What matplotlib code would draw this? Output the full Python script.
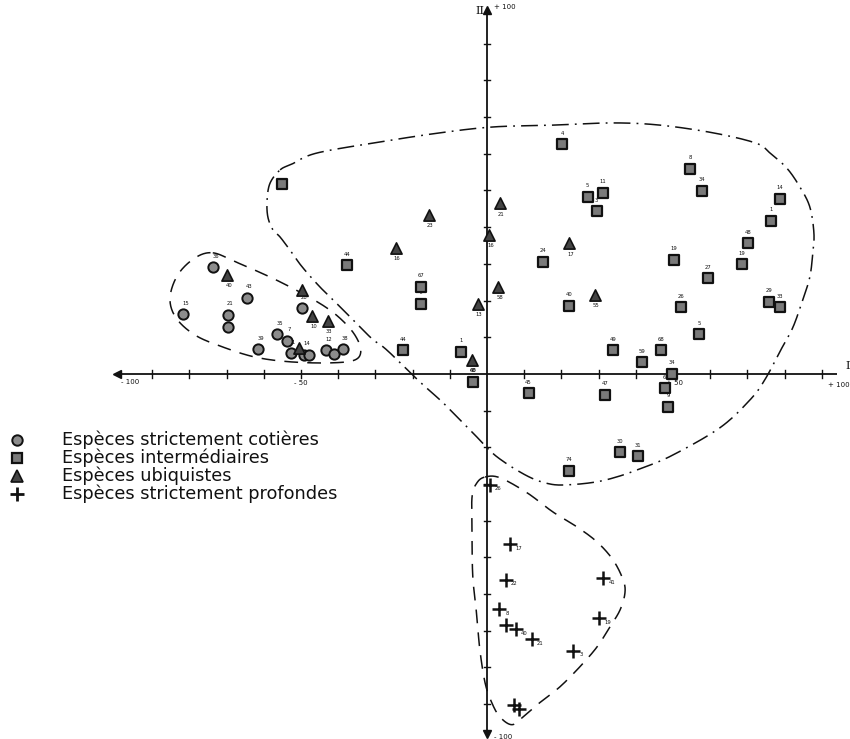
import numpy as np
import matplotlib
matplotlib.use("Agg")
import matplotlib.pyplot as plt
from matplotlib.lines import Line2D

# ---- factor scores (axis I, axis II) for each species group ----
cot_x = [-73.6, -81.6, -69.7, -69.7, -64.6, -49.8, -56.5, -53.8, -61.6, -52.8, -49.2, -47.8, -43.3, -41.0, -38.8]
cot_y = [29.1, 16.3, 16.1, 12.7, 20.8, 17.9, 10.8, 9.1, 6.7, 5.6, 5.2, 5.2, 6.5, 5.4, 6.8]
cot_lab = ["36", "15", "21", "42", "43", "28", "35", "7", "39", "1", "14", "", "12", "", "38"]

int_x = [-55.2, -37.7, -17.8, -17.6, -22.5, -6.9, -3.8, 11.2, 31.7, 34.0, 41.7, 46.8, 49.7, 47.8, 48.8,
         35.8, 40.7, 22.0, 20.3, 27.1, 31.1, 29.5, 15.1, 22.1, 54.6, 57.7, 78.8, 76.3, 70.2, 68.6,
         50.3, 59.5, 52.3, 75.9, 78.8, 57.1]
int_y = [51.8, 29.6, 23.8, 19.1, 6.4, 6.1, -2.1, -5.3, -5.7, 6.5, 3.2, 6.5, 0.1, -3.8, -8.9,
         -21.4, -22.5, -26.4, 62.6, 48.3, 49.4, 44.4, 30.6, 18.6, 55.9, 49.9, 47.8, 41.8, 35.6, 29.9,
         31.1, 26.1, 18.2, 19.7, 18.2, 10.9]
int_lab = ["", "44", "67", "47", "44", "1", "48", "45", "47", "49", "59", "68", "34", "6", "9",
           "30", "31", "74", "4", "5", "11", "3", "24", "40", "8", "34", "14", "1", "48", "19",
           "19", "27", "26", "29", "33", "5"]

ubi_x = [-69.8, -49.7, -46.9, -42.8, -50.5, -24.5, -15.6, -2.5, -4.1, 0.6, 3.5, 3.0, 22.1, 29.0]
ubi_y = [27.0, 22.9, 15.9, 14.4, 7.0, 34.3, 43.3, 19.1, 3.8, 37.9, 46.5, 23.8, 35.6, 21.5]
ubi_lab = ["40", "", "10", "33", "", "16", "23", "13", "60", "16", "21", "58", "17", "55"]

pro_x = [0.8, 6.2, 5.1, 31.3, 3.3, 5.1, 7.8, 12.0, 23.2, 30.2, 7.3, 8.6]
pro_y = [-30.2, -46.4, -56.1, -55.7, -64.1, -68.4, -69.6, -72.3, -75.4, -66.6, -90.3, -91.3]
pro_lab = ["26", "17", "22", "41", "8", "", "40", "21", "3", "19", "", ""]

legend_labels = ["Espèces strictement cotières", "Espèces intermédiaires",
                 "Espèces ubiquistes", "Espèces strictement profondes"]

# ---- hand-drawn envelopes around the groups ----
env_cot = [(-73.7, 33.0), (-67.5, 30.5), (-58.3, 26.4), (-50.3, 22.3), (-43.5, 18.3), (-39.0, 14.7),
           (-35.5, 10.6), (-33.9, 6.5), (-35.5, 3.8), (-42.2, 3.0), (-53.0, 3.3), (-62.4, 4.6),
           (-71.2, 7.4), (-78.5, 10.6), (-83.6, 15.3), (-85.2, 20.7), (-83.1, 27.0), (-78.5, 31.6)]
env_int = [(-55.6, 55.6), (-52.4, 57.2), (-45.7, 60.2), (-28.8, 63.2), (-12.6, 65.7), (1.6, 67.3),
           (17.7, 67.8), (33.9, 68.4), (46.5, 67.8), (60.8, 65.7), (72.3, 62.9), (76.1, 60.2),
           (80.6, 56.1), (84.1, 51.0), (86.8, 45.5), (87.9, 38.4), (87.6, 33.0), (86.8, 26.4),
           (84.9, 20.2), (82.3, 12.8), (79.3, 7.1), (74.7, -1.6), (70.7, -7.1), (62.6, -14.7),
           (50.0, -22.1), (41.9, -25.6), (35.8, -27.8), (29.6, -29.4), (22.3, -30.2), (16.9, -30.0),
           (10.8, -27.8), (2.7, -22.6), (-2.7, -17.2), (-9.1, -10.6), (-12.6, -7.1), (-18.0, -2.2),
           (-26.9, 6.5), (-30.6, 9.3), (-34.7, 13.4), (-39.5, 18.3), (-44.9, 23.7), (-49.7, 29.2),
           (-52.4, 33.0), (-55.6, 37.3), (-57.5, 39.2), (-58.9, 42.8), (-59.1, 47.4), (-58.3, 52.0)]
env_pro = [(-0.5, -28.1), (3.5, -28.3), (10.8, -32.4), (17.7, -37.6), (24.2, -41.7), (29.6, -45.8),
           (33.9, -50.7), (36.6, -56.1), (37.1, -59.7), (35.8, -64.3), (33.1, -68.9), (29.6, -74.4),
           (25.0, -79.8), (19.6, -85.3), (14.2, -89.6), (9.7, -93.5), (6.7, -95.6), (3.5, -93.5),
           (1.3, -89.6), (-0.5, -84.2), (-1.9, -75.2), (-2.7, -66.2), (-3.8, -55.3), (-4.0, -43.3),
           (-4.0, -33.5), (-2.7, -29.7)]


def closed_spline(pts, n=20):
    """Closed Catmull-Rom curve through the given vertices."""
    p = np.asarray(pts, dtype=float)
    m = len(p)
    out = []
    for i in range(m):
        p0, p1, p2, p3 = p[i - 1], p[i], p[(i + 1) % m], p[(i + 2) % m]
        t = np.linspace(0, 1, n, endpoint=False)[:, None]
        seg = 0.5 * ((2 * p1) + (-p0 + p2) * t + (2 * p0 - 5 * p1 + 4 * p2 - p3) * t ** 2
                     + (-p0 + 3 * p1 - 3 * p2 + p3) * t ** 3)
        out.append(seg)
    out = np.vstack(out)
    return np.vstack([out, out[:1]])


fig = plt.figure(figsize=(8.5, 7.39), dpi=100)
ax = fig.add_axes([0, 0, 1, 1])
ax.set_xlim(-130.9, 97.6)
ax.set_ylim(-99.5, 101.9)
ax.axis("off")

ink = "#111111"

# ---- axes I and II ----
ax.plot([-99, 94], [0, 0], color=ink, lw=1.3, solid_capstyle="butt")
ax.plot([0, 0], [-98, 99], color=ink, lw=1.3, solid_capstyle="butt")
ax.plot([-99.5], [0], marker="<", ms=6, color=ink)
ax.plot([0], [99.2], marker="^", ms=6, color=ink)
ax.plot([0], [-98.2], marker="v", ms=6, color=ink)
for t in range(-90, 91, 10):
    if t != 0:
        ax.plot([t, t], [-1.0, 1.0], color=ink, lw=1.0)
        ax.plot([-0.9, 0.9], [t, t], color=ink, lw=1.0)

tick_kw = dict(fontsize=5, color=ink)
ax.text(-98.4, -2.2, "- 100", ha="left", va="center", **tick_kw)
ax.text(-50, -2.4, "- 50", ha="center", va="center", **tick_kw)
ax.text(50.5, -2.4, "+ 50", ha="center", va="center", **tick_kw)
ax.text(94.5, -3.0, "+ 100", ha="center", va="center", **tick_kw)
ax.text(97.0, 2.2, "I", ha="center", va="center", fontsize=8, color=ink, family="DejaVu Serif")
ax.text(-2.0, 98.8, "II", ha="center", va="center", fontsize=8, color=ink, family="DejaVu Serif")
ax.text(2.0, 100.0, "+ 100", ha="left", va="center", **tick_kw)
ax.text(2.0, -99.0, "- 100", ha="left", va="center", **tick_kw)

# ---- envelopes ----
c = closed_spline(env_cot)
ax.plot(c[:, 0], c[:, 1], color=ink, lw=1.1, linestyle=(0, (9, 6)))
c = closed_spline(env_int)
ax.plot(c[:, 0], c[:, 1], color=ink, lw=1.1, linestyle=(0, (11, 4, 1.2, 4)))
c = closed_spline(env_pro)
ax.plot(c[:, 0], c[:, 1], color=ink, lw=1.1, linestyle=(0, (9, 6)))

# ---- species points ----
cot_style = dict(marker="o", s=55, c="#8c8c8c", edgecolors=ink, linewidths=1.4, zorder=5)
int_style = dict(marker="s", s=50, c="#7a7a7a", edgecolors=ink, linewidths=1.6, zorder=5)
ubi_style = dict(marker="^", s=65, c="#444444", edgecolors=ink, linewidths=1.2, zorder=5)

ax.scatter(cot_x, cot_y, **cot_style)
ax.scatter(int_x, int_y, **int_style)
ax.scatter(ubi_x, ubi_y, **ubi_style)
ax.scatter(pro_x, pro_y, marker="+", s=110, c=ink, linewidths=1.8, zorder=5)

lab_kw = dict(fontsize=3.8, color=ink, textcoords="offset points", ha="center")
for x, y, s in zip(cot_x, cot_y, cot_lab):
    if s:
        ax.annotate(s, (x, y), xytext=(2, 6), va="bottom", **lab_kw)
for x, y, s in zip(int_x, int_y, int_lab):
    if s:
        ax.annotate(s, (x, y), xytext=(0, 6), va="bottom", **lab_kw)
for x, y, s in zip(ubi_x, ubi_y, ubi_lab):
    if s:
        ax.annotate(s, (x, y), xytext=(1, -6), va="top", **lab_kw)
for x, y, s in zip(pro_x, pro_y, pro_lab):
    if s:
        ax.annotate(s, (x, y), xytext=(6, -3), va="center", **lab_kw)

# ---- legend ----
leg_y = [1 - 440 / 739, 1 - 458 / 739, 1 - 476 / 739, 1 - 494 / 739]
leg_x = 17 / 850
handles = [
    Line2D([leg_x], [leg_y[0]], marker="o", ms=7.5, mfc="#8c8c8c", mec=ink, mew=1.4, ls="none",
           transform=fig.transFigure),
    Line2D([leg_x], [leg_y[1]], marker="s", ms=7, mfc="#7a7a7a", mec=ink, mew=1.6, ls="none",
           transform=fig.transFigure),
    Line2D([leg_x], [leg_y[2]], marker="^", ms=8, mfc="#444444", mec=ink, mew=1.2, ls="none",
           transform=fig.transFigure),
    Line2D([leg_x], [leg_y[3]], marker="+", ms=10, mec=ink, mew=2.0, ls="none",
           transform=fig.transFigure),
]
for h in handles:
    fig.add_artist(h)
for y, s in zip(leg_y, legend_labels):
    fig.text(62 / 850, y, s, fontsize=12.8, color=ink, va="center", ha="left")

fig.savefig("out.png", dpi=100)
